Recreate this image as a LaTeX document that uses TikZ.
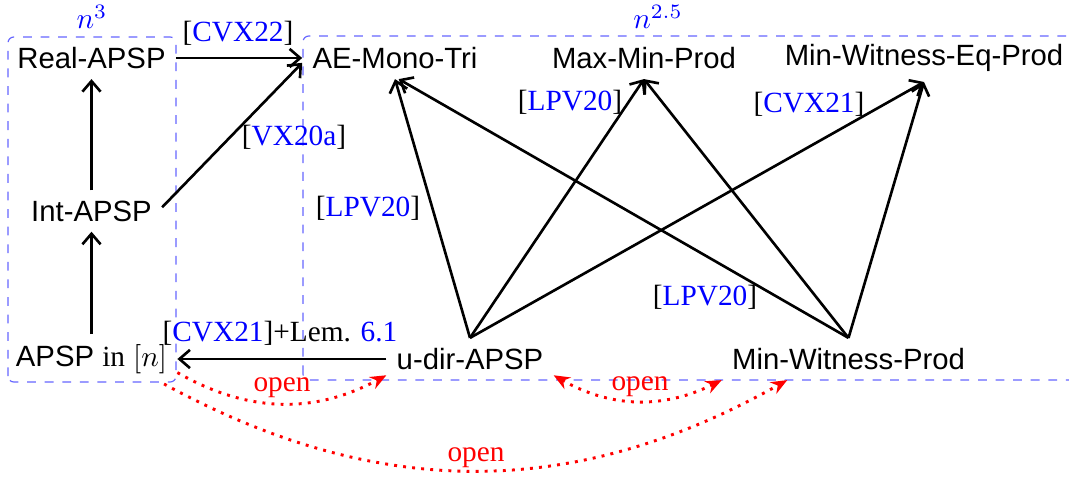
\documentclass[tikz,border=0pt]{standalone}
\usepackage{fontspec}
\setmainfont{Liberation Serif}
\newfontfamily\nodefont{Liberation Sans}
\usetikzlibrary{arrows.meta}
\begin{document}
\begin{tikzpicture}[x=0.3413pt,y=0.3413pt,
  prob/.style={font=\nodefont, inner sep=3.33pt},
  cite/.style={inner sep=1pt},
  boxline/.style={draw=blue!60, dashed, rounded corners=2pt, line width=0.4pt},
  arr/.style={-{Straight Barb[length=3.6pt,width=6.2pt]}, line width=0.9pt, black},
  openarr/.style={-{Stealth[length=5.5pt,width=4.5pt]}, red, line width=1pt, dash pattern=on 1pt off 2.1pt},
  openlab/.style={text=red, inner sep=1pt}
]
\useasboundingbox (0,0) rectangle (1069,480);

% groups
\draw[boxline] (8,98) rectangle (176,443);
\draw[boxline] (303,100) rectangle (1090,444);
\node[text=blue] (n3) at (92,463) {$n^3$};
\node[text=blue] (n25) at (658,463) {$n^{2.5}$};

% problems
\node[prob] (real) at (91.5,422) {Real-APSP};
\node[prob] (int) at (91.5,269) {Int-APSP};
\node[prob] (apsp) at (91.5,121) {APSP {\rmfamily in} $[n]$};
\node[prob] (ae) at (395,422) {AE-Mono-Tri};
\node[prob] (mmp) at (644,422) {Max-Min-Prod};
\node[prob] (mwep) at (924,422) {Min-Witness-Eq-Prod};
\node[prob] (udir) at (470,121) {u-dir-APSP};
\node[prob] (mwp) at (848.5,121) {Min-Witness-Prod};

% reductions
\draw[arr] (real) -- (ae);
\draw[arr] (int.3) -- (ae.183);
\draw[arr] (apsp) -- (int);
\draw[arr] (int) -- (real);
\draw[arr] (udir) -- (apsp);
\draw[arr] (udir.north) -- (ae.south);
\draw[arr] (udir.north) -- (mmp.south);
\draw[arr] (udir.north) -- (mwep.south);
\draw[arr] (mwp.north) -- (ae.-80);
\draw[arr] (mwp.north) -- (mmp.south);
\draw[arr] (mwp.north) -- (mwep.south);

% citation labels
\node[cite] (c1) at (238,447) {[\textcolor{blue}{CVX22}]};
\node[cite] (c2) at (294,343) {[\textcolor{blue}{VX20a}]};
\node[cite] (c3) at (368,272) {[\textcolor{blue}{LPV20}]};
\node[cite] (c4) at (570,378) {[\textcolor{blue}{LPV20}]};
\node[cite] (c5) at (809,376) {[\textcolor{blue}{CVX21}]};
\node[cite] (c6) at (705,183) {[\textcolor{blue}{LPV20}]};
\node[cite] (c7) at (280,147) {[\textcolor{blue}{CVX21}]+Lem. \textcolor{blue}{6.1}};

% open questions
\draw[openarr] (apsp.-9) to[bend right=29] (udir.191);
\draw[openarr, {Stealth[length=5.5pt,width=4.5pt]}-{Stealth[length=5.5pt,width=4.5pt]}] (udir.-11) to[bend right=28] (mwp.south west);
\draw[openarr] (apsp.-19) to[bend right=29] (mwp.-161);
\node[openlab] (o1) at (282,92) {open};
\node[openlab] (o2) at (640,93) {open};
\node[openlab] (o3) at (476,22) {open};
\end{tikzpicture}
\end{document}
